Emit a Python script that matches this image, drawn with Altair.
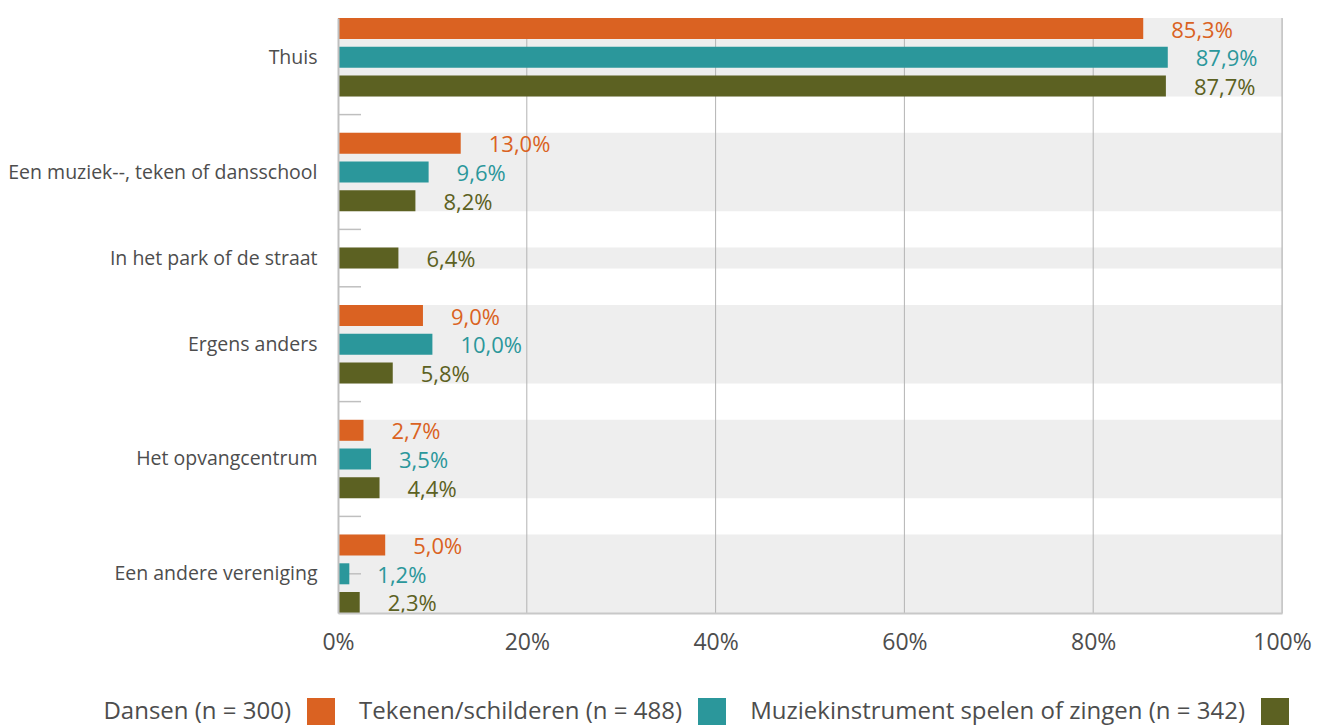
import altair as alt
import pandas as pd

categories = [
    "Thuis",
    "Een muziek--, teken of dansschool",
    "In het park of de straat",
    "Ergens anders",
    "Het opvangcentrum",
    "Een andere vereniging",
]
series = [
    "Dansen (n = 300)",
    "Tekenen/schilderen (n = 488)",
    "Muziekinstrument spelen of zingen (n = 342)",
]
dansen = [85.3, 13.0, None, 9.0, 2.7, 5.0]
tekenen = [87.9, 9.6, None, 10.0, 3.5, 1.2]
muziek = [87.7, 8.2, 6.4, 5.8, 4.4, 2.3]
x_ticks = [0, 20, 40, 60, 80, 100]
colors = ["#DA6222", "#2B979B", "#5C6122"]

FONT = "Open Sans"
TEXT = "#4D4D4D"
W, H = 944, 595
HALF = 0.366

# build row layout: one row per present (category, series) bar, one spacer row between groups
rows, groups = [], []
r = 0
for i, cat in enumerate(categories):
    start = r
    for s, vals in zip(series, [dansen, tekenen, muziek]):
        v = vals[i]
        if v is None:
            continue
        rows.append(dict(cat=cat, series=s, value=v, row=r,
                         label=f"{v:.1f}%".replace(".", ",")))
        r += 1
    groups.append(dict(cat=cat, first=start, last=r - 1, mid=(start + r - 1) / 2))
    r += 1
last_row = r - 2

bars_df = pd.DataFrame(rows)
groups_df = pd.DataFrame(groups)
grid_df = pd.DataFrame({"g": x_ticks[1:]})
tick_df = pd.DataFrame({"row": list(range(1, last_row, 2))})

y_scale = alt.Scale(domain=[-HALF, last_row + HALF], reverse=True, nice=False, zero=False)
x_scale = alt.Scale(domain=[0, 100], nice=False, zero=True)
color_scale = alt.Scale(domain=series, range=colors)

label_expr = " : ".join(
    f"datum.value == {g['mid']} ? '{g['cat']}'" for g in groups
) + " : ''"

y_axis = alt.Axis(values=[g["mid"] for g in groups], labelExpr=label_expr, ticks=False,
                  tickSize=0, grid=False, domain=True, domainColor="#BFBFBF", domainWidth=2,
                  labelFont=FONT, labelFontSize=19.5, labelColor=TEXT, labelPadding=21,
                  labelLimit=500, labelFlush=False, labelOverlap=False, title=None, zindex=1)
x_axis = alt.Axis(values=x_ticks, labelExpr="datum.value + '%'", ticks=False, tickSize=0,
                  grid=False, domain=True, domainColor="#C8C8C8", domainWidth=2,
                  labelFont=FONT, labelFontSize=23, labelColor=TEXT, labelPadding=18,
                  labelFlush=False, labelOverlap=False, title=None, zindex=1)

bands = alt.Chart(groups_df).transform_calculate(
    y0=f"datum.first - {HALF}", y1=f"datum.last + {HALF}", x0="0", x1="100"
).mark_rect(color="#EEEEEE").encode(
    x=alt.X("x0:Q", scale=x_scale, axis=x_axis),
    x2="x1:Q",
    y=alt.Y("y0:Q", scale=y_scale, axis=y_axis),
    y2="y1:Q",
)

grid = alt.Chart(grid_df).mark_rule(color="#B3B3B3", strokeWidth=1).encode(
    x=alt.X("g:Q", scale=x_scale, axis=x_axis),
)

ticks = alt.Chart(tick_df).mark_rule(color="#BFBFBF", strokeWidth=1.5).encode(
    y=alt.Y("row:Q", scale=y_scale, axis=y_axis),
    x=alt.value(0),
    x2=alt.value(23),
)

bars = alt.Chart(bars_df).transform_calculate(
    y0=f"datum.row - {HALF}", y1=f"datum.row + {HALF}", x0="0"
).mark_rect().encode(
    x=alt.X("x0:Q", scale=x_scale, axis=x_axis),
    x2="value:Q",
    y=alt.Y("y0:Q", scale=y_scale, axis=y_axis),
    y2="y1:Q",
    color=alt.Color("series:N", scale=color_scale, legend=alt.Legend(
        orient="none", legendX=-31, legendY=680, direction="horizontal", title=None,
        symbolType="square", symbolSize=784, symbolStrokeWidth=0,
        labelFont=FONT, labelFontSize=24, labelColor=TEXT, labelLimit=800,
        labelAlign="right", labelOffset=alt.ExprRef("-44"), columnPadding=24,
    )),
)

labels = alt.Chart(bars_df).mark_text(
    align="left", baseline="middle", dx=28, dy=2, font=FONT, fontSize=22
).encode(
    x=alt.X("value:Q", scale=x_scale, axis=x_axis),
    y=alt.Y("row:Q", scale=y_scale, axis=y_axis),
    text="label:N",
    color=alt.Color("series:N", scale=color_scale, legend=None),
)

chart = alt.layer(bands, grid, ticks, bars, labels).properties(
    width=W, height=H,
    autosize=alt.AutoSizeParams(type="none"),
    padding={"left": 330, "top": 10, "right": 42, "bottom": 120},
).configure_view(stroke=None).configure(background="white")

chart.save("out.html", embed_options={"renderer": "svg", "actions": False})
